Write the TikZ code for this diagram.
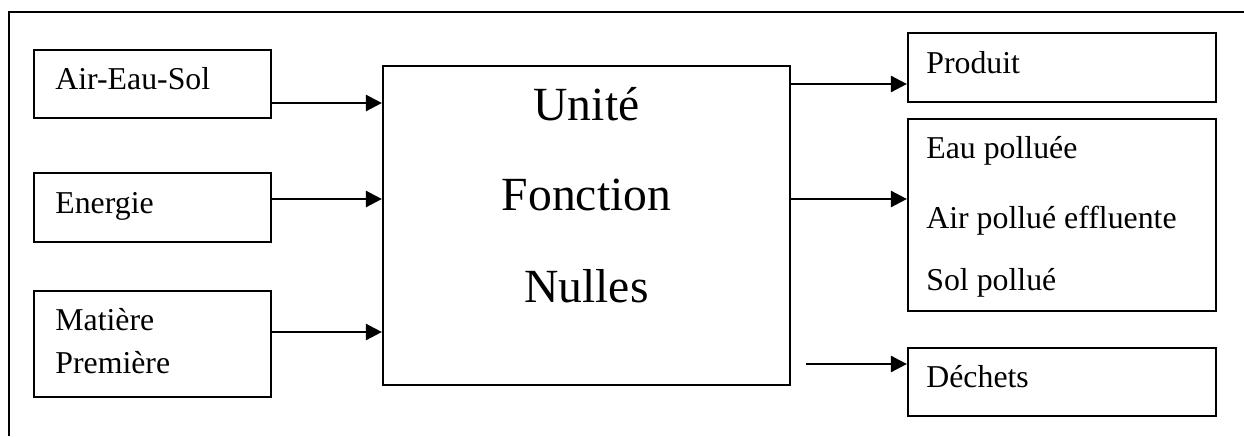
\documentclass[tikz,border=0pt]{standalone}
\usepackage{fontspec}
\setmainfont{Liberation Serif}
\usetikzlibrary{arrows.meta,fit}

\tikzset{
  box/.style={draw, line width=1.1pt, inner sep=0pt},
  lbl/.style={anchor=base west, inner sep=0pt, font=\fontsize{15.9}{19}\selectfont},
  big/.style={anchor=base, inner sep=0pt, font=\fontsize{23.8}{28}\selectfont},
  arr/.style={line width=1.3pt, -{Triangle[length=8pt,width=8pt]}},
  frame/.style={line width=1.2pt}
}

\begin{document}
\begin{tikzpicture}[x=0.5pt, y=-0.5pt]
  \useasboundingbox (0,0) rectangle (1244,436);

  % outer frame (only top and left edges lie inside the page)
  \draw[frame] (9,436) -- (9,12) -- (1244,12);

  % input boxes
  \node[box, fit={(34,50) (271,118)}] (air) {};
  \node[box, fit={(34,173) (271,242)}] (ener) {};
  \node[box, fit={(34,291) (271,397)}] (mat) {};
  \node[lbl] (tair) at (55,89) {Air-Eau-Sol};
  \node[lbl] (tener) at (55,213) {Energie};
  \node[lbl] (tmat1) at (55,330) {Matière};
  \node[lbl] (tmat2) at (55,373) {Première};

  % central unit
  \node[box, fit={(383,66) (790,385)}] (unit) {};
  \node[big] (tu1) at (586.5,120) {Unité};
  \node[big] (tu2) at (586.5,210) {Fonction};
  \node[big] (tu3) at (586.5,302) {Nulles};

  % output boxes
  \node[box, fit={(908,33) (1216,102)}] (prod) {};
  \node[box, fit={(908,119) (1216,311)}] (poll) {};
  \node[box, fit={(908,348) (1216,416)}] (dech) {};
  \node[lbl] (tprod) at (926,73) {Produit};
  \node[lbl] (tp1) at (926,158) {Eau polluée};
  \node[lbl] (tp2) at (926,228) {Air pollué effluente};
  \begin{scope}
    \clip (908,119) rectangle (1216,297);
    \node[lbl] (tp3) at (926,290) {Sol pollué};
  \end{scope}
  \node[lbl] (tdech) at (926,387) {Déchets};

  % connectors
  \draw[arr] (air.east |- 0,103) -- (unit.west |- 0,103);
  \draw[arr] (ener.east |- 0,199) -- (unit.west |- 0,199);
  \draw[arr] (mat.east |- 0,332) -- (unit.west |- 0,332);
  \draw[arr] (unit.east |- 0,84) -- (prod.west |- 0,84);
  \draw[arr] (unit.east |- 0,199) -- (poll.west |- 0,199);
  \coordinate (dstart) at (806,364);
  \draw[arr] (dstart) -- (dech.west |- dstart);
\end{tikzpicture}
\end{document}
